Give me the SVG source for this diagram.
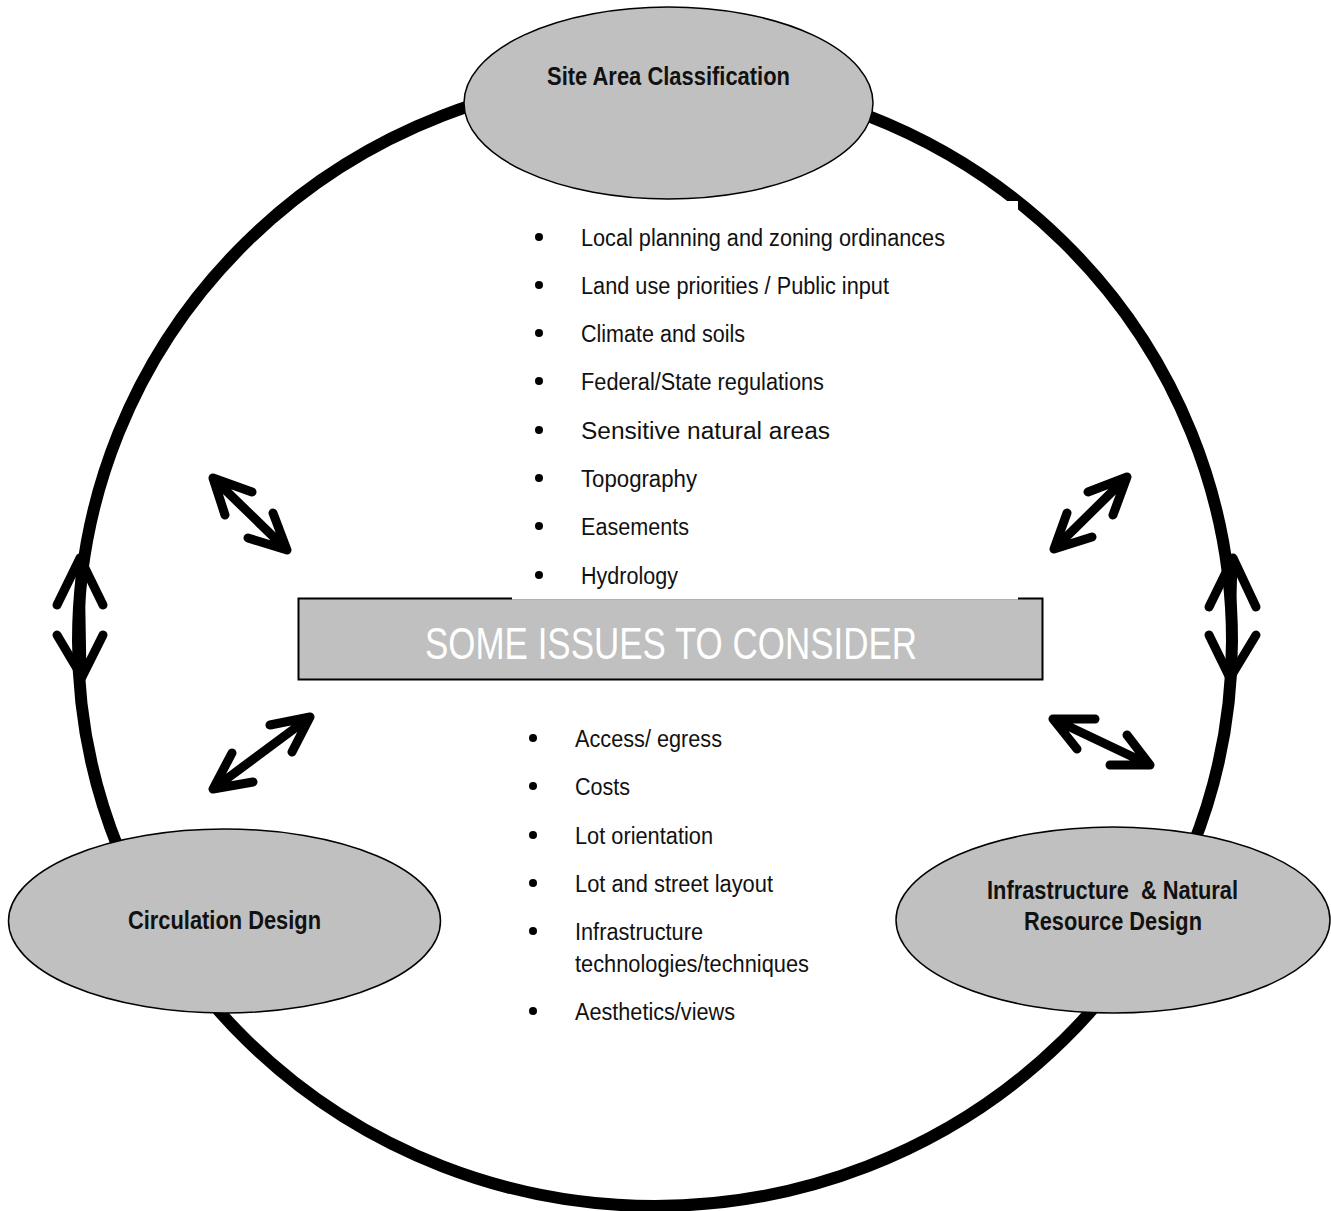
<svg xmlns="http://www.w3.org/2000/svg" width="1331" height="1211" viewBox="0 0 1331 1211">
<style>
.node{fill:#c0c0c0;stroke:#000;stroke-width:1.5}
.lbl{font-family:"Liberation Sans",Arial,sans-serif;font-weight:bold;font-size:25px;fill:#111;text-anchor:middle}
.li{font-family:"Liberation Sans",Arial,sans-serif;font-size:23px;fill:#111}
.bul{fill:#000}
.arr{fill:none;stroke:#000;stroke-width:9;stroke-linecap:round;stroke-linejoin:round}
</style>
<rect width="1331" height="1211" fill="#fff"/>
<ellipse id="cycle" cx="655" cy="641" rx="577" ry="565" fill="none" stroke="#000" stroke-width="12"/>
<g id="center">
<rect x="298.5" y="598.5" width="744" height="81" fill="#c0c0c0" stroke="#000" stroke-width="2"/>
<rect x="512" y="201" width="506" height="398.5" fill="#fff"/>
<text x="671" y="659" font-family="'Liberation Sans',Arial,sans-serif" font-size="44" fill="#fff" text-anchor="middle" textLength="492" lengthAdjust="spacingAndGlyphs">SOME ISSUES TO CONSIDER</text>
</g>
<g id="issues-top">
<circle class="bul" cx="539" cy="237" r="4"/><text class="li" x="581" y="246" textLength="364" lengthAdjust="spacingAndGlyphs">Local planning and zoning ordinances</text>
<circle class="bul" cx="539" cy="285" r="4"/><text class="li" x="581" y="294" textLength="308" lengthAdjust="spacingAndGlyphs">Land use priorities / Public input</text>
<circle class="bul" cx="539" cy="333" r="4"/><text class="li" x="581" y="342" textLength="164" lengthAdjust="spacingAndGlyphs">Climate and soils</text>
<circle class="bul" cx="539" cy="381" r="4"/><text class="li" x="581" y="390" textLength="243" lengthAdjust="spacingAndGlyphs">Federal/State regulations</text>
<circle class="bul" cx="539" cy="430" r="4"/><text class="li" x="581" y="439" textLength="249" lengthAdjust="spacingAndGlyphs">Sensitive natural areas</text>
<circle class="bul" cx="539" cy="478" r="4"/><text class="li" x="581" y="487" textLength="116" lengthAdjust="spacingAndGlyphs">Topography</text>
<circle class="bul" cx="539" cy="526" r="4"/><text class="li" x="581" y="535" textLength="108" lengthAdjust="spacingAndGlyphs">Easements</text>
<circle class="bul" cx="539" cy="575" r="4"/><text class="li" x="581" y="584" textLength="97" lengthAdjust="spacingAndGlyphs">Hydrology</text>
</g>
<g id="issues-bottom">
<circle class="bul" cx="533" cy="738" r="4"/><text class="li" x="575" y="747" textLength="147" lengthAdjust="spacingAndGlyphs">Access/ egress</text>
<circle class="bul" cx="533" cy="786" r="4"/><text class="li" x="575" y="795" textLength="55" lengthAdjust="spacingAndGlyphs">Costs</text>
<circle class="bul" cx="533" cy="835" r="4"/><text class="li" x="575" y="844" textLength="138" lengthAdjust="spacingAndGlyphs">Lot orientation</text>
<circle class="bul" cx="533" cy="883" r="4"/><text class="li" x="575" y="892" textLength="198" lengthAdjust="spacingAndGlyphs">Lot and street layout</text>
<circle class="bul" cx="533" cy="931" r="4"/><text class="li" x="575" y="940" textLength="128" lengthAdjust="spacingAndGlyphs">Infrastructure</text>
<text class="li" x="575" y="972" textLength="234" lengthAdjust="spacingAndGlyphs">technologies/techniques</text>
<circle class="bul" cx="533" cy="1011" r="4"/><text class="li" x="575" y="1020" textLength="160" lengthAdjust="spacingAndGlyphs">Aesthetics/views</text>
</g>
<g id="connectors">
<path class="arr" d="M80,558 L82,677 M57,605 L80,558 L103,605 M57,635 L82,677 L103,635"/>
<path class="arr" d="M1233,558 L1230,678 M1209,607 L1233,558 L1256,607 M1209,635 L1230,678 L1256,635"/>
<path class="arr" d="M213,478 L287,550 M252,492 L213,478 L225,515 M248,538 L287,550 L273,513"/>
<path class="arr" d="M1127,477 L1054,549 M1088,492 L1127,477 L1113,515 M1067,513 L1054,549 L1092,537"/>
<path class="arr" d="M310,717 L213,789 M270,725 L310,717 L292,752 M232,753 L213,789 L253,782"/>
<path class="arr" d="M1053,719 L1150,765 M1095,719 L1053,719 L1077,749 M1110,765 L1150,765 L1127,735"/>
</g>
<g id="site-area">
<ellipse class="node" cx="668.5" cy="103" rx="204.5" ry="96"/>
<text class="lbl" x="668.5" y="85" textLength="243" lengthAdjust="spacingAndGlyphs">Site Area Classification</text>
</g>
<g id="circulation">
<ellipse class="node" cx="224.5" cy="921" rx="216" ry="92"/>
<text class="lbl" x="224.5" y="929" textLength="193" lengthAdjust="spacingAndGlyphs">Circulation Design</text>
</g>
<g id="infrastructure">
<ellipse class="node" cx="1113" cy="920" rx="217" ry="93"/>
<text class="lbl" x="1112.5" y="899" textLength="251" lengthAdjust="spacingAndGlyphs" xml:space="preserve">Infrastructure  &amp; Natural</text>
<text class="lbl" x="1113" y="930" textLength="178" lengthAdjust="spacingAndGlyphs">Resource Design</text>
</g>
</svg>
